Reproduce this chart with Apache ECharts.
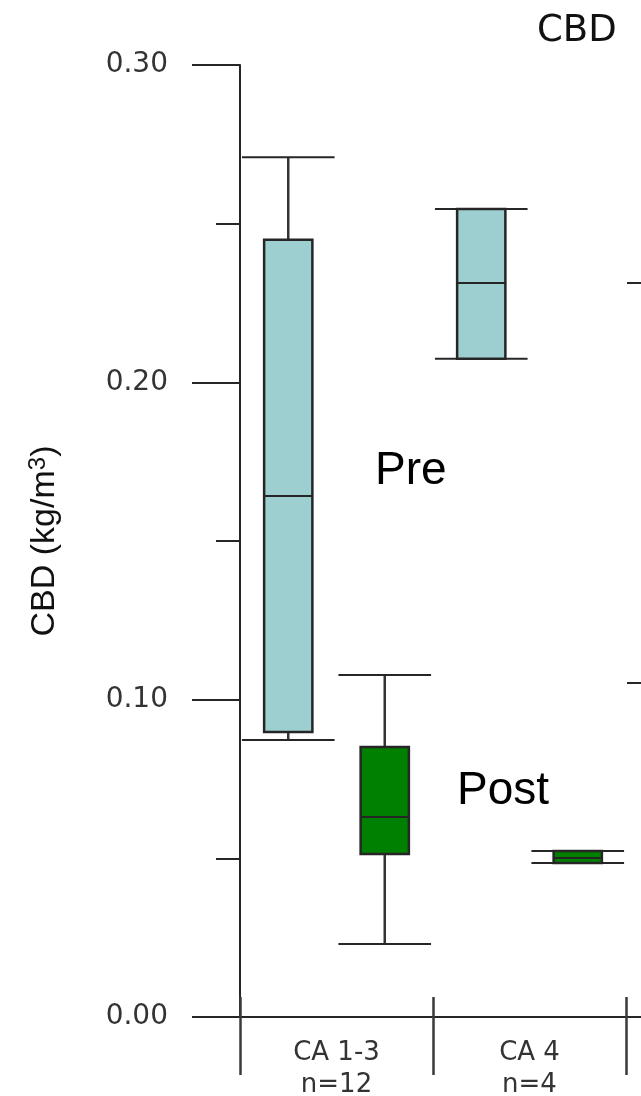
<!DOCTYPE html>
<html>
<head>
<meta charset="utf-8">
<title>CBD</title>
<script src="https://cdn.jsdelivr.net/npm/echarts@6/dist/echarts.min.js"></script>
<style>
  html, body { margin: 0; padding: 0; background: #fff; }
  #myChart { width: 641px; height: 1096px; }
</style>
</head>
<body>
<div id="myChart"></div>
<script>
// categories on the x axis (third one is cut off at the right edge)
var categories = ['CA 1-3\nn=12', 'CA 4\nn=4', '']
var yTicks = [0, 0.1, 0.2, 0.3]

// [category index, min, Q1, median, Q3, max]
var preData = [
  [0, 0.0873, 0.0898, 0.1642, 0.2449, 0.2709],
  [1, 0.2074, 0.2074, 0.2313, 0.2546, 0.2546]
]
var postData = [
  [0, 0.0230, 0.0514, 0.0630, 0.0851, 0.1078],
  [1, 0.0485, 0.0485, 0.0501, 0.0523, 0.0523]
]

var lineColor = '#262626'

// box drawn half a slot left (side = -1) or right (side = 1) of the category centre
function boxRenderer (side, fill) {
  return function (params, api) {
    var x = api.value(0)
    var bw = api.size([1, 0])[0]
    var cx = api.coord([x, api.value(3)])[0] + side * bw / 4
    var boxW = bw / 4
    var capW = bw * 0.48
    var yMin = api.coord([x, api.value(1)])[1]
    var yQ1 = api.coord([x, api.value(2)])[1]
    var yMed = api.coord([x, api.value(3)])[1]
    var yQ3 = api.coord([x, api.value(4)])[1]
    var yMax = api.coord([x, api.value(5)])[1]
    var ln = { stroke: lineColor, lineWidth: 2 }
    return {
      type: 'group',
      children: [
        { type: 'line', shape: { x1: cx, y1: yMax, x2: cx, y2: yQ3 }, style: { stroke: '#333', lineWidth: 2.5 } },
        { type: 'line', shape: { x1: cx, y1: yQ1, x2: cx, y2: yMin }, style: { stroke: '#333', lineWidth: 2.5 } },
        { type: 'line', shape: { x1: cx - capW / 2, y1: yMax, x2: cx + capW / 2, y2: yMax }, style: ln },
        { type: 'line', shape: { x1: cx - capW / 2, y1: yMin, x2: cx + capW / 2, y2: yMin }, style: ln },
        {
          type: 'rect',
          shape: { x: cx - boxW / 2, y: yQ3, width: boxW, height: Math.max(yQ1 - yQ3, 1) },
          style: { fill: fill, stroke: lineColor, lineWidth: 2.5 }
        },
        { type: 'line', shape: { x1: cx - boxW / 2, y1: yMed, x2: cx + boxW / 2, y2: yMed }, style: ln }
      ]
    }
  }
}

var option = {
  backgroundColor: '#ffffff',
  animation: false,
  title: {
    text: 'CBD',
    left: 532,
    top: 8,
    textStyle: { fontFamily: 'DejaVu Sans', fontSize: 37, fontWeight: 'normal', color: '#111' }
  },
  grid: [
    { left: 240, top: 65, width: 579, height: 952, outerBoundsMode: 'none', containLabel: false },
    // next panel, mostly off the page
    { left: 675, top: 283, width: 100, height: 400, outerBoundsMode: 'none', containLabel: false }
  ],
  xAxis: [
    {
      type: 'category',
      gridIndex: 0,
      data: categories,
      boundaryGap: true,
      axisLine: { show: true, lineStyle: { color: lineColor, width: 2 } },
      axisTick: { show: true, length: 58, lineStyle: { color: '#3a3a3a', width: 2.5 } },
      axisLabel: {
        margin: 20,
        fontFamily: 'DejaVu Sans',
        fontSize: 26,
        lineHeight: 32,
        color: '#333'
      }
    },
    {
      // short upward part of the category separators
      type: 'category',
      gridIndex: 0,
      data: categories,
      position: 'bottom',
      axisLine: { show: false },
      axisTick: { show: true, inside: true, length: 20, lineStyle: { color: '#3a3a3a', width: 2.5 } },
      axisLabel: { show: false }
    },
    { type: 'value', gridIndex: 1, show: false }
  ],
  yAxis: [
    {
      type: 'value',
      gridIndex: 0,
      min: 0,
      max: 0.3,
      interval: 0.1,
      name: 'CBD (kg/m{sup|3})',
      nameLocation: 'middle',
      nameGap: 176,
      nameRotate: 90,
      nameTextStyle: {
        fontFamily: 'Liberation Sans',
        fontSize: 34,
        color: '#111',
        rich: {
          sup: { fontFamily: 'Liberation Sans', fontSize: 24, color: '#111', verticalAlign: 'top', padding: [0, 0, 14, 0] }
        }
      },
      axisLine: { show: true, lineStyle: { color: lineColor, width: 2 } },
      axisTick: { show: true, length: 48, lineStyle: { color: lineColor, width: 2 } },
      minorTick: { show: true, splitNumber: 2, length: 24, lineStyle: { color: lineColor, width: 2 } },
      splitLine: { show: false },
      axisLabel: {
        margin: 72,
        fontFamily: 'DejaVu Sans',
        fontSize: 28,
        color: '#333',
        formatter: function (v) {
          return yTicks.indexOf(Math.round(v * 10) / 10) >= 0 ? v.toFixed(2) : ''
        }
      }
    },
    {
      type: 'value',
      gridIndex: 1,
      min: 0,
      max: 1,
      interval: 1,
      axisLine: { show: false },
      axisTick: { show: true, length: 48, lineStyle: { color: lineColor, width: 2 } },
      axisLabel: { show: false },
      splitLine: { show: false }
    }
  ],
  graphic: [
    { type: 'text', left: 375, top: 448, style: { text: 'Pre', font: '46px "Liberation Sans"', fill: '#000' } },
    { type: 'text', left: 457, top: 768, style: { text: 'Post', font: '46px "Liberation Sans"', fill: '#000' } }
  ],
  series: [
    {
      name: 'Pre',
      type: 'custom',
      xAxisIndex: 0,
      yAxisIndex: 0,
      renderItem: boxRenderer(-1, '#9ecfd0'),
      encode: { x: 0, y: [1, 2, 3, 4, 5] },
      data: preData
    },
    {
      name: 'Post',
      type: 'custom',
      xAxisIndex: 0,
      yAxisIndex: 0,
      renderItem: boxRenderer(1, '#008000'),
      encode: { x: 0, y: [1, 2, 3, 4, 5] },
      data: postData
    }
  ]
}

var myChart = echarts.init(document.getElementById('myChart'))
myChart.setOption(option)
</script>
</body>
</html>
